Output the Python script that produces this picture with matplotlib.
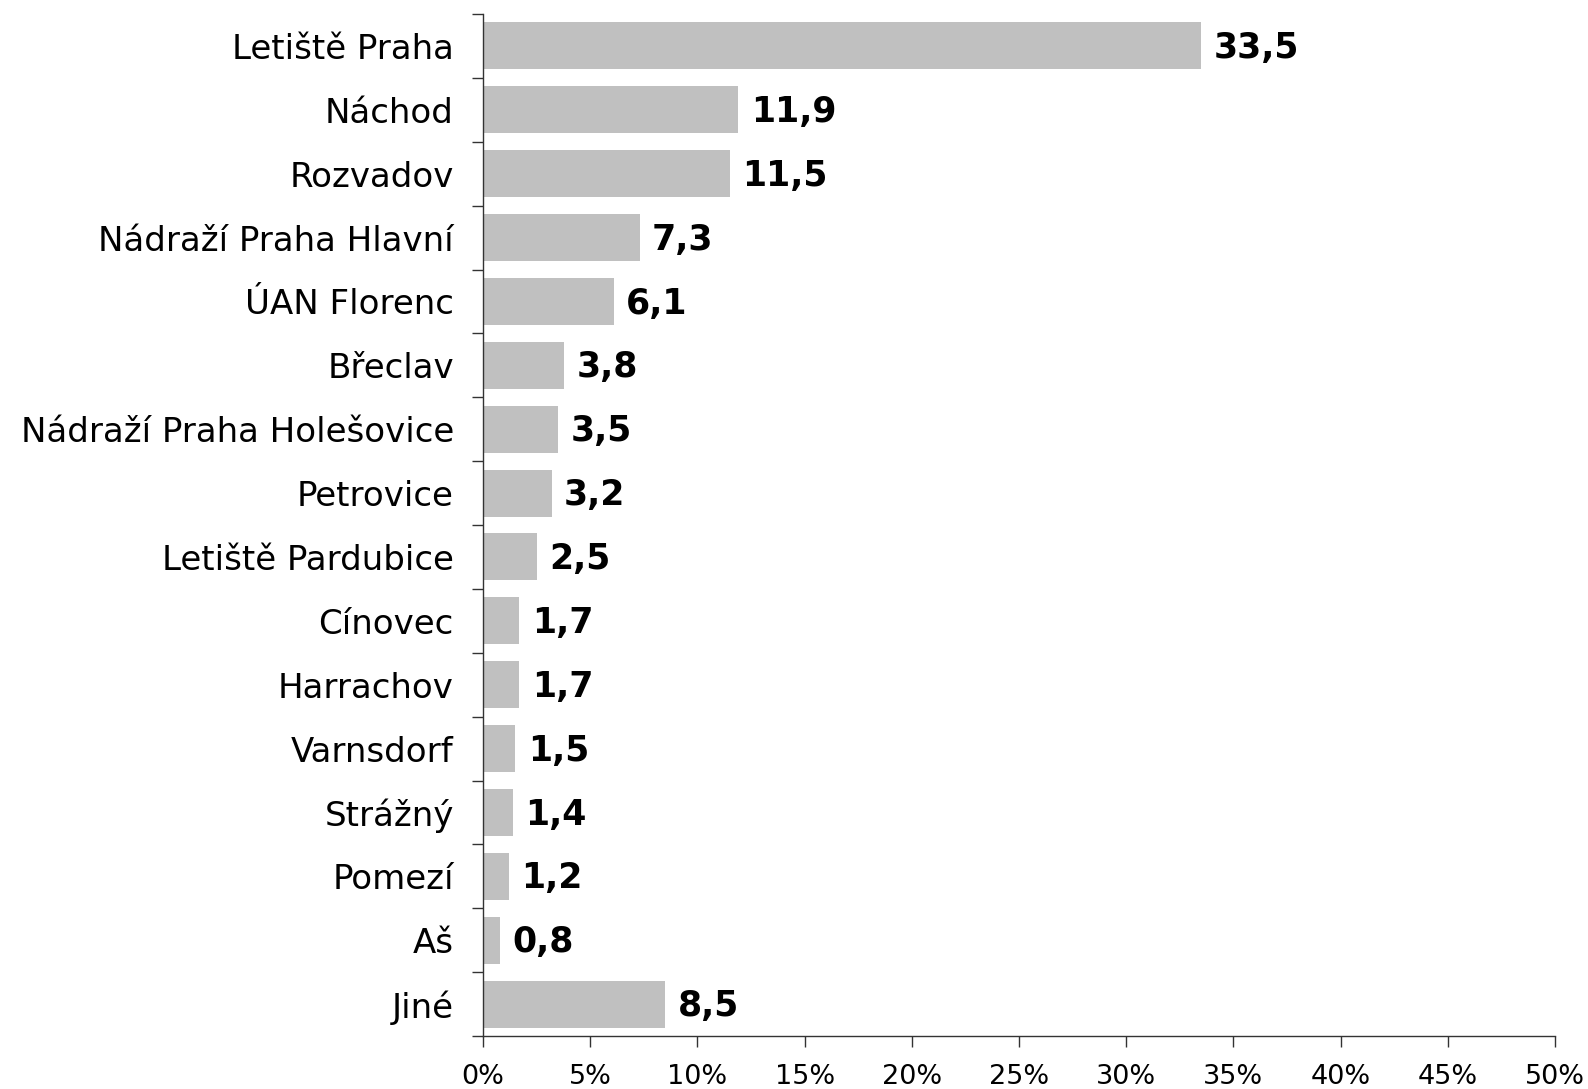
import matplotlib
matplotlib.use("Agg")
import matplotlib.pyplot as plt
import numpy as np
from matplotlib.ticker import FixedLocator

categories = ["Letiště Praha", "Náchod", "Rozvadov", "Nádraží Praha Hlavní", "ÚAN Florenc",
              "Břeclav", "Nádraží Praha Holešovice", "Petrovice", "Letiště Pardubice",
              "Cínovec", "Harrachov", "Varnsdorf", "Strážný", "Pomezí", "Aš", "Jiné"]
values = [33.5, 11.9, 11.5, 7.3, 6.1, 3.8, 3.5, 3.2, 2.5, 1.7, 1.7, 1.5, 1.4, 1.2, 0.8, 8.5]
xticks = [0, 5, 10, 15, 20, 25, 30, 35, 40, 45, 50]

plt.rcParams['font.family'] = ['DejaVu Sans']
fig = plt.figure(figsize=(15.88, 10.89), dpi=100)
ax = fig.add_axes([483/1588, 1-1036/1089, (1555-483)/1588, (1036-14)/1089])

n = len(categories)
y = np.arange(n)
ax.barh(y, values, height=0.735, color="#C0C0C0", edgecolor="none")
ax.set_ylim(n - 0.5, -0.5)
ax.set_xlim(0, 50)

ax.set_yticks(y)
ax.set_yticklabels(categories, fontsize=24.5)
ax.tick_params(axis='y', which='major', length=0, pad=21)
ax.yaxis.set_minor_locator(FixedLocator(np.arange(n + 1) - 0.5))
ax.tick_params(axis='y', which='minor', length=8, width=1, color="#333333")

ax.set_xticks(xticks)
ax.set_xticklabels([f"{t}%" for t in xticks], fontsize=19.5)
ax.tick_params(axis='x', which='major', length=8, width=1, color="#333333", pad=12)

for s in ['top', 'right']:
    ax.spines[s].set_visible(False)
for s in ['left', 'bottom']:
    ax.spines[s].set_color("#333333")
    ax.spines[s].set_linewidth(1)

for yi, v in zip(y, values):
    ax.annotate(f"{v:.1f}".replace(".", ","), xy=(v, yi), xytext=(9, -1.5),
                textcoords="offset points", va="center", ha="left",
                fontsize=25, fontweight="bold")

fig.savefig("out.png", dpi=100)
